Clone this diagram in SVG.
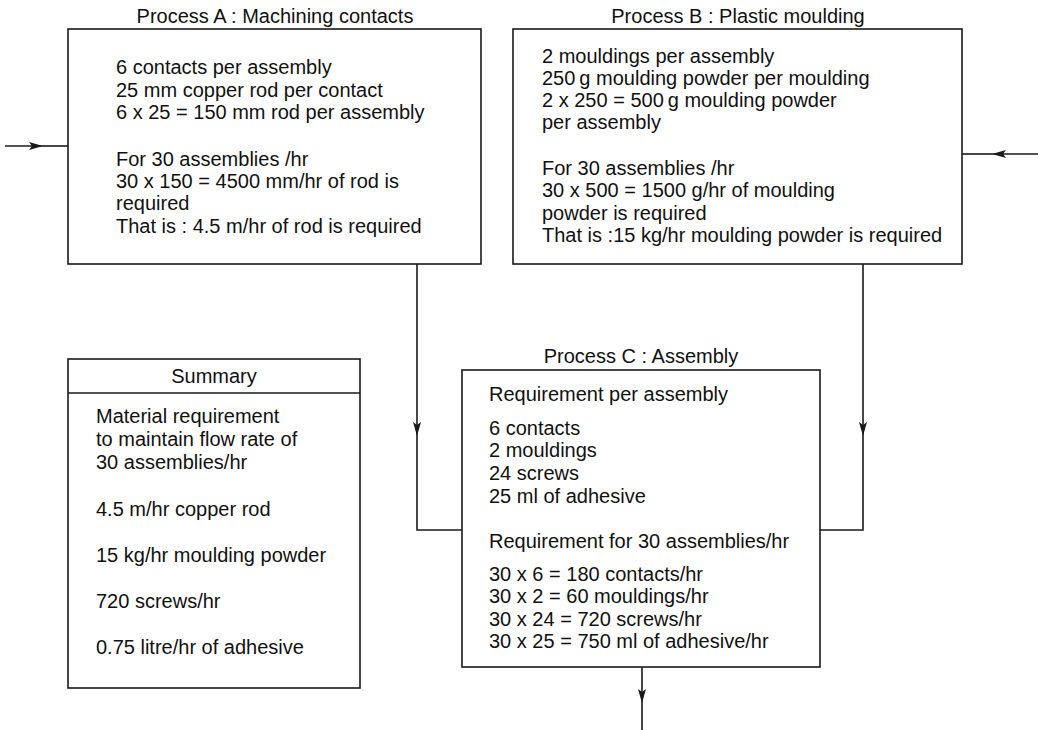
<svg xmlns="http://www.w3.org/2000/svg" width="1038" height="730" viewBox="0 0 1038 730">
<style>
  .box { fill: #fff; stroke: #1a1a1a; stroke-width: 1.6; }
  .conn { fill: none; stroke: #1a1a1a; stroke-width: 1.6; }
  text { font-family: "Liberation Sans", Arial, Helvetica, sans-serif; font-size: 20px; fill: #111; }
  .title { text-anchor: middle; }
</style>
<defs>
  <marker id="arr" viewBox="0 0 14 8" refX="14" refY="4" markerWidth="14" markerHeight="8" markerUnits="userSpaceOnUse" orient="auto">
    <path d="M0,0 L14,4 L0,8 L3,4 z" fill="#1a1a1a"/>
  </marker>
</defs>
<rect width="1038" height="730" fill="#fff"/>

<g id="connectors">
  <path class="conn" d="M5,146 L43,146" marker-end="url(#arr)"/>
  <path class="conn" d="M43,146 L68,146"/>
  <path class="conn" d="M1038,154 L992,154" marker-end="url(#arr)"/>
  <path class="conn" d="M992,154 L962,154"/>
  <path class="conn" d="M417,264 L417,436" marker-end="url(#arr)"/>
  <path class="conn" d="M417,436 L417,530 L462,530"/>
  <path class="conn" d="M863,264 L863,436" marker-end="url(#arr)"/>
  <path class="conn" d="M863,436 L863,530 L820,530"/>
  <path class="conn" d="M642,667 L642,703" marker-end="url(#arr)"/>
  <path class="conn" d="M642,703 L642,730"/>
</g>

<g id="processA">
  <text class="title" x="275" y="23">Process A : Machining contacts</text>
  <rect class="box" x="68" y="29" width="413" height="235"/>
  <text x="116" y="74">6 contacts per assembly</text>
  <text x="116" y="97">25 mm copper rod per contact</text>
  <text x="116" y="119">6 x 25 = 150 mm rod per assembly</text>
  <text x="116" y="166">For 30 assemblies /hr</text>
  <text x="116" y="188">30 x 150 = 4500 mm/hr of rod is</text>
  <text x="116" y="210">required</text>
  <text x="116" y="233">That is : 4.5 m/hr of rod is required</text>
</g>

<g id="processB">
  <text class="title" x="738" y="23">Process B : Plastic moulding</text>
  <rect class="box" x="513" y="29" width="449" height="235"/>
  <text x="542" y="63">2 mouldings per assembly</text>
  <text x="542" y="85">250&#8201;g moulding powder per moulding</text>
  <text x="542" y="107">2 x 250 = 500&#8201;g moulding powder</text>
  <text x="542" y="129">per assembly</text>
  <text x="542" y="175">For 30 assemblies /hr</text>
  <text x="542" y="197">30 x 500 = 1500 g/hr of moulding</text>
  <text x="542" y="220">powder is required</text>
  <text x="542" y="242">That is :15 kg/hr moulding powder is required</text>
</g>

<g id="processC">
  <text class="title" x="641" y="363">Process C : Assembly</text>
  <rect class="box" x="462" y="370" width="358" height="297"/>
  <text x="489" y="401">Requirement per assembly</text>
  <text x="489" y="435">6 contacts</text>
  <text x="489" y="457">2 mouldings</text>
  <text x="489" y="480">24 screws</text>
  <text x="489" y="503">25 ml of adhesive</text>
  <text x="489" y="548">Requirement for 30 assemblies/hr</text>
  <text x="489" y="581">30 x 6 = 180 contacts/hr</text>
  <text x="489" y="603">30 x 2 = 60 mouldings/hr</text>
  <text x="489" y="626">30 x 24 = 720 screws/hr</text>
  <text x="489" y="648">30 x 25 = 750 ml of adhesive/hr</text>
</g>

<g id="summary">
  <rect class="box" x="68" y="359" width="292" height="329"/>
  <line class="conn" x1="68" y1="393" x2="360" y2="393"/>
  <text class="title" x="214" y="383">Summary</text>
  <text x="96" y="423">Material requirement</text>
  <text x="96" y="446">to maintain flow rate of</text>
  <text x="96" y="469">30 assemblies/hr</text>
  <text x="96" y="516">4.5 m/hr copper rod</text>
  <text x="96" y="562">15 kg/hr moulding powder</text>
  <text x="96" y="608">720 screws/hr</text>
  <text x="96" y="654">0.75 litre/hr of adhesive</text>
</g>
</svg>
